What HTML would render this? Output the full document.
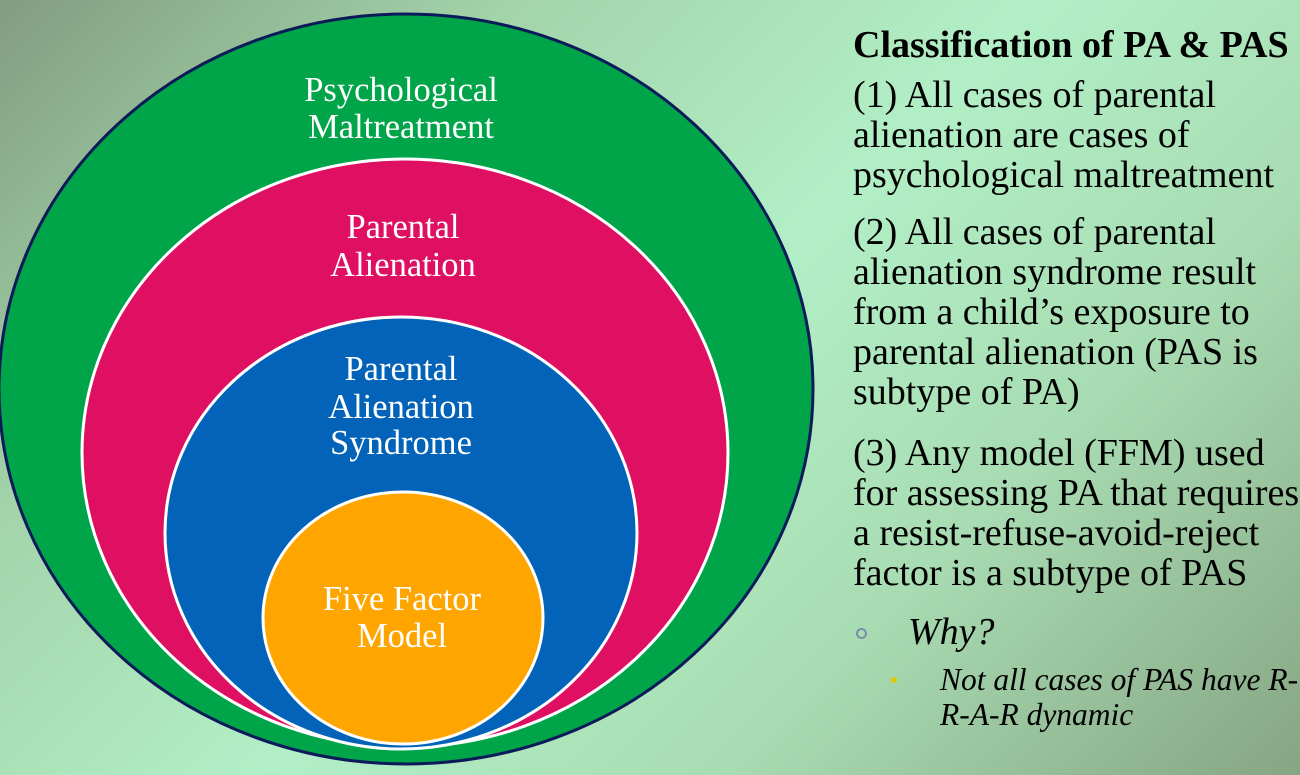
<!DOCTYPE html>
<html><head><meta charset="utf-8"><style>
html,body{margin:0;padding:0}
body{width:1300px;height:775px;overflow:hidden;position:relative;
background:linear-gradient(135deg,#829d80 0%,#a3d4aa 25%,#b2efc6 50%,#a8dcb2 72%,#86a583 100%);
font-family:"Liberation Serif",serif;}
svg{position:absolute;left:0;top:0}
.t{position:absolute;left:853px;color:#000;font-size:38px;line-height:40px;white-space:nowrap}
</style></head><body>
<svg width="820" height="775" font-family="Liberation Serif, serif" font-size="34.5" fill="#fff" text-anchor="middle">
<ellipse cx="406" cy="389" rx="407" ry="375" fill="#00a54a" stroke="#0c1a5a" stroke-width="3"/>
<ellipse cx="405" cy="453" rx="323" ry="294" fill="#df0f62" stroke="#fff" stroke-width="3"/>
<ellipse cx="401" cy="533" rx="236" ry="216" fill="#0263b8" stroke="#fff" stroke-width="3"/>
<ellipse cx="403" cy="618" rx="140" ry="126" fill="#fea500" stroke="#fff" stroke-width="3"/>
<text x="401" y="101">Psychological</text>
<text x="401" y="138">Maltreatment</text>
<text x="403" y="238">Parental</text>
<text x="403" y="276">Alienation</text>
<text x="401" y="380">Parental</text>
<text x="401" y="418">Alienation</text>
<text x="401" y="454">Syndrome</text>
<text x="402" y="610">Five Factor</text>
<text x="402" y="647">Model</text>
</svg>
<div class="t" style="top:25px;font-weight:bold;font-size:38px">Classification of PA &amp; PAS</div>
<div class="t" style="top:75px">(1) All cases of parental<br>alienation are cases of<br>psychological maltreatment</div>
<div class="t" style="top:212px">(2) All cases of parental<br>alienation syndrome result<br>from a child’s exposure to<br>parental alienation (PAS is<br>subtype of PA)</div>
<div class="t" style="top:433px">(3) Any model (FFM) used<br>for assessing PA that requires<br>a resist-refuse-avoid-reject<br>factor is a subtype of PAS</div>
<div style="position:absolute;left:856px;top:628px;width:7px;height:7px;border:2px solid #7a8fa8;border-radius:50%"></div>
<div class="t" style="left:908px;top:612px;font-style:italic">Why?</div>
<div style="position:absolute;left:891px;top:677px;width:6px;height:6px;background:#e0c800;border-radius:50%"></div>
<div class="t" style="left:940px;top:662px;font-size:31.5px;line-height:35px;font-style:italic">Not all cases of PAS have R-<br>R-A-R dynamic</div>
</body></html>
